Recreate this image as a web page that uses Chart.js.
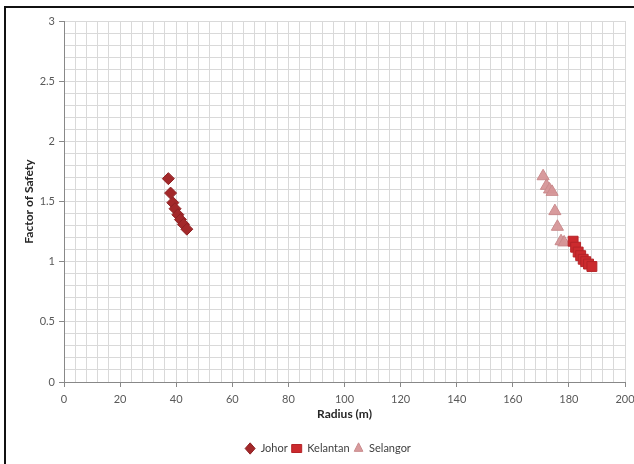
<!DOCTYPE html>
<html>
<head>
<meta charset="utf-8">
<script src="https://cdn.jsdelivr.net/npm/chart.js@4.4.1/dist/chart.umd.min.js"></script>
<style>
  html, body { margin: 0; padding: 0; background: #fff; }
  #wrap { position: relative; width: 634px; height: 464px; overflow: hidden; }
  #frame { position: absolute; left: 4px; top: 6px; width: 700px; height: 600px;
           border-left: 2px solid #111; border-top: 2px solid #111; }
  canvas { position: absolute; left: 0; top: 0; }
</style>
</head>
<body>
<div id="wrap">
  <div id="frame"></div>
  <canvas id="c" width="634" height="464"></canvas>
</div>
<script>
// Slip-circle radius (m) versus factor of safety for three states
const johorRadius = [37.2, 38.0, 38.8, 39.6, 40.6, 41.5, 42.6, 43.8];
const johorFos    = [1.69, 1.57, 1.49, 1.44, 1.39, 1.35, 1.31, 1.27];

const kelantanRadius = [181.5, 182.4, 183.3, 184.2, 185.1, 186.0, 187.0, 188.2];
const kelantanFos    = [1.17, 1.12, 1.08, 1.05, 1.02, 1.00, 0.98, 0.96];

const selangorRadius = [170.8, 172.0, 173.1, 174.0, 175.0, 175.9, 177.2, 178.3];
const selangorFos    = [1.71, 1.63, 1.60, 1.58, 1.42, 1.29, 1.17, 1.16];

const xLabels = [0, 20, 40, 60, 80, 100, 120, 140, 160, 180, 200];
const yLabels = [0, 0.5, 1, 1.5, 2, 2.5, 3];

const toPoints = (xs, ys) => xs.map((x, i) => ({ x: x, y: ys[i] }));
const near = (v, list) => list.some(t => Math.abs(v - t) < 1e-6);

const font = { family: "Lato, 'Open Sans', 'Liberation Sans', sans-serif", size: 11 };
const titleFont = { family: font.family, size: 12, weight: 'bold' };

new Chart(document.getElementById('c'), {
  type: 'scatter',
  data: {
    datasets: [
      { label: 'Johor', data: toPoints(johorRadius, johorFos),
        pointStyle: 'rectRot', pointRadius: 6, pointHoverRadius: 6,
        backgroundColor: '#a3282a', borderColor: '#8e2224', borderWidth: 1 },
      { label: 'Kelantan', data: toPoints(kelantanRadius, kelantanFos),
        pointStyle: 'rect', pointRadius: 7, pointHoverRadius: 7,
        backgroundColor: '#cc2a2e', borderColor: '#b52428', borderWidth: 1 },
      { label: 'Selangor', data: toPoints(selangorRadius, selangorFos),
        pointStyle: 'triangle', pointRadius: 7, pointHoverRadius: 7,
        backgroundColor: 'rgba(214,150,152,0.95)', borderColor: '#c98a8c', borderWidth: 1 }
    ]
  },
  options: {
    responsive: false,
    animation: false,
    layout: { padding: { left: 22, right: 0, top: 21, bottom: 0 } },
    plugins: {
      tooltip: { enabled: false },
      legend: {
        position: 'bottom',
        labels: { usePointStyle: true, pointStyleWidth: 10, boxHeight: 8, color: '#404040',
                  font: font, padding: 4 }
      }
    },
    scales: {
      x: {
        type: 'linear', min: 0, max: 200,
        afterFit: s => { s.height = 57; s.paddingLeft = 0; s.paddingRight = 9; },
        ticks: {
          stepSize: 4, autoSkip: false, maxTicksLimit: 100, maxRotation: 0,
          color: '#595959', font: font, padding: 6,
          callback: v => near(v, xLabels) ? String(Math.round(v)) : ''
        },
        grid: {
          color: '#d9d9d9', lineWidth: 1, tickLength: 5,
          tickColor: ctx => (ctx.tick && near(ctx.tick.value, xLabels)) ? '#888' : 'rgba(0,0,0,0)'
        },
        border: { color: '#888' },
        title: { display: true, text: 'Radius (m)', color: '#262626',
                 font: titleFont, padding: { top: 2, bottom: 18 } }
      },
      y: {
        type: 'linear', min: 0, max: 3,
        afterFit: s => { s.width = 42; },
        ticks: {
          stepSize: 0.1, autoSkip: false, maxTicksLimit: 100,
          color: '#595959', font: font, padding: 4,
          callback: v => near(v, yLabels) ? String(Math.round(v * 10) / 10) : ''
        },
        grid: {
          color: '#d9d9d9', lineWidth: 1, tickLength: 5,
          tickColor: ctx => (ctx.tick && near(ctx.tick.value, yLabels)) ? '#888' : 'rgba(0,0,0,0)'
        },
        border: { color: '#888' },
        title: { display: true, text: 'Factor of Safety', color: '#262626',
                 font: titleFont, padding: { top: 0, bottom: 6 } }
      }
    }
  }
});
</script>
</body>
</html>
